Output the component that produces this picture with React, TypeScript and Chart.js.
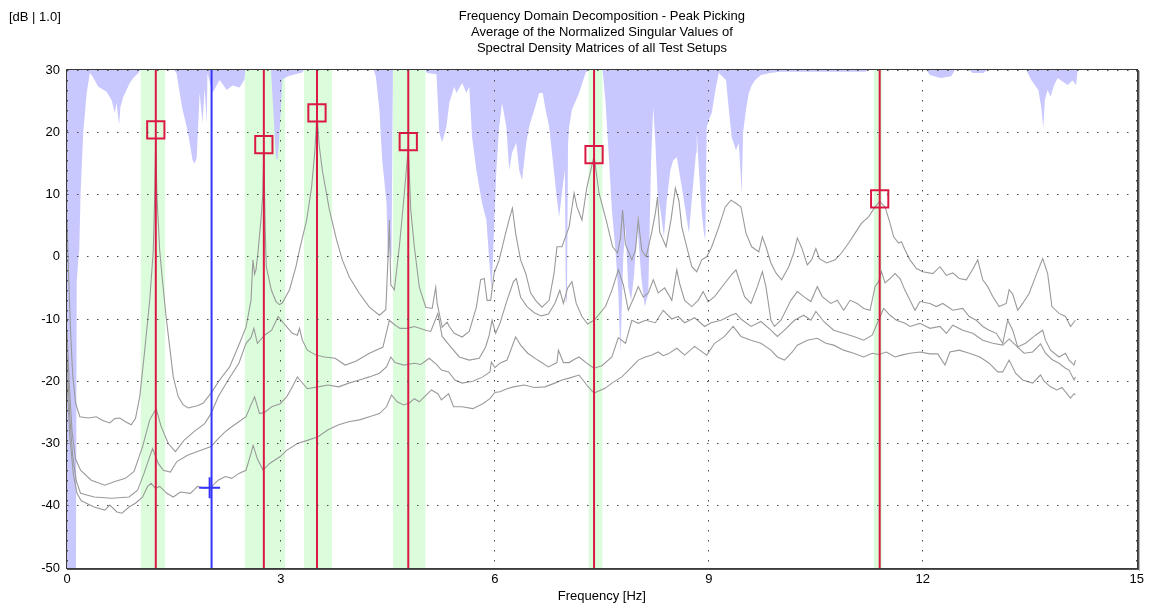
import React, { useEffect, useRef } from 'react';
import { Chart, registerables } from 'chart.js';

Chart.register(...registerables);

const FONT = '"Liberation Sans", Arial, sans-serif';

const titleLines = [
  'Frequency Domain Decomposition - Peak Picking',
  'Average of the Normalized Singular Values of',
  'Spectral Density Matrices of all Test Setups',
];
const yUnitLabel = '[dB | 1.0]';
const xAxisTitle = 'Frequency [Hz]';

const xMin = 0;
const xMax = 15;
const xStep = 3;
const yMin = -50;
const yMax = 30;
const yStep = 10;

// First singular value
const sv1Freq = [0, 0.02, 0.05, 0.08, 0.12, 0.18, 0.3, 0.41, 0.5, 0.6, 0.67, 0.74, 0.82, 0.9, 0.96, 1.02, 1.09, 1.16, 1.21, 1.23, 1.245, 1.26, 1.3, 1.34, 1.39, 1.49, 1.56, 1.63, 1.7, 1.77, 1.84, 1.91, 2.02, 2.14, 2.28, 2.42, 2.51, 2.58, 2.607, 2.63, 2.65, 2.677, 2.72, 2.745, 2.76, 2.778, 2.794, 2.864, 2.93, 2.98, 3.02, 3.12, 3.21, 3.26, 3.36, 3.43, 3.475, 3.505, 3.535, 3.58, 3.68, 3.78, 3.86, 3.96, 4.1, 4.24, 4.38, 4.47, 4.5, 4.52, 4.54, 4.59, 4.66, 4.73, 4.785, 4.82, 4.87, 4.94, 5.03, 5.12, 5.17, 5.19, 5.26, 5.33, 5.36, 5.43, 5.54, 5.64, 5.74, 5.8, 5.85, 5.89, 5.94, 5.99, 6.06, 6.15, 6.2, 6.245, 6.29, 6.36, 6.43, 6.5, 6.57, 6.66, 6.76, 6.83, 6.87, 6.94, 7.04, 7.11, 7.15, 7.22, 7.29, 7.39, 7.46, 7.56, 7.65, 7.72, 7.76, 7.79, 7.83, 7.92, 7.97, 8.01, 8.06, 8.12, 8.2, 8.25, 8.28, 8.31, 8.4, 8.47, 8.53, 8.58, 8.62, 8.69, 8.76, 8.83, 8.9, 8.97, 9.04, 9.14, 9.23, 9.31, 9.38, 9.45, 9.52, 9.6, 9.7, 9.75, 9.8, 9.87, 9.94, 10.02, 10.12, 10.19, 10.24, 10.3, 10.38, 10.44, 10.5, 10.55, 10.65, 10.77, 10.86, 10.96, 11.05, 11.14, 11.24, 11.33, 11.395, 11.47, 11.54, 11.59, 11.66, 11.7, 11.75, 11.82, 11.91, 12.0, 12.14, 12.24, 12.33, 12.42, 12.51, 12.61, 12.7, 12.77, 12.84, 12.91, 12.98, 13.07, 13.17, 13.21, 13.26, 13.33, 13.4, 13.49, 13.58, 13.68, 13.75, 13.81, 13.91, 14.0, 14.07, 14.14];
const sv1Db = [6, -2, -12, -19, -23.5, -25.7, -25.9, -25.7, -26.3, -26.7, -26, -25.9, -26.5, -27, -26, -22.5, -15, -7, 1, 10, 19.4, 10, 1, -4, -9.7, -19.3, -22.5, -23.8, -24.3, -24.1, -23.9, -23.5, -21.9, -19.8, -17.7, -13.9, -11.3, -7, -0.5, -2.8, -2.1, 0.6, 6, 10, 17.2, 5, -1.6, -5.3, -7.2, -7.7, -7.4, -5.3, -1.6, 1.1, 5.9, 11.2, 17, 23, 18, 13.9, 7.5, 2.7, -0.5, -3.3, -5.9, -8.1, -9.4, -8.5, -0.5, 5.9, -4.5, -5.3, 1.6, 10.2, 17.6, 7.5, 1.6, -4.9, -8.1, -8.3, -4.9, -7.5, -11.3, -10.5, -11.2, -12.3, -12.9, -12, -8.1, -3.7, -3.5, -7, -7, -2.6, -0.5, 3.8, 6, 7.8, 3.8, -0.5, -2.6, -5.8, -7, -8.1, -7, -2.6, 1.6, 1.6, 4.8, 10.2, 8, 5.9, 11.2, 16.2, 10.2, 5.9, 1.6, 0.6, 3, 7.5, 2, -0.5, 1, 5.9, 1, 0, 4, 7, 9.6, 4, 1.6, 6, 11, 9, 4.8, 1.6, -1.6, -2.4, -0.5, 0, 1.6, 4.8, 8, 9.1, 8.6, 8, 3.8, 1.6, 0.8, 3.2, 1.6, -1, -2.6, -3.7, -1.6, 0.6, 3, 1.5, -1.3, -0.5, 1.3, -0.3, -1, -0.5, 0.6, 2.2, 3.8, 5.4, 6.4, 8, 8.9, 8, 5.4, 3.2, 2.2, 2.4, 1.1, -0.5, -1.9, -2.4, -2.7, -1.6, -3, -2.6, -3.5, -3.7, -2, -0.5, -3.7, -4.8, -6.4, -8, -7.5, -5.3, -6, -8.6, -7.5, -5.9, -3.2, -0.3, -2.7, -8, -9.1, -9.6, -11.2, -10.2];

// Second singular value
const sv2Freq = [0, 0.03, 0.07, 0.12, 0.19, 0.34, 0.53, 0.67, 0.82, 0.94, 1.06, 1.16, 1.25, 1.32, 1.42, 1.52, 1.64, 1.78, 1.93, 2.02, 2.12, 2.26, 2.41, 2.51, 2.58, 2.62, 2.67, 2.77, 2.87, 2.96, 3.06, 3.16, 3.23, 3.26, 3.3, 3.37, 3.49, 3.61, 3.76, 3.9, 4.05, 4.24, 4.43, 4.52, 4.58, 4.67, 4.77, 4.87, 5.03, 5.1, 5.17, 5.2, 5.26, 5.36, 5.5, 5.64, 5.78, 5.87, 5.92, 5.96, 6.01, 6.07, 6.17, 6.26, 6.3, 6.36, 6.45, 6.55, 6.65, 6.75, 6.84, 6.91, 6.96, 7.02, 7.08, 7.14, 7.22, 7.3, 7.39, 7.55, 7.64, 7.73, 7.8, 7.87, 7.95, 8.01, 8.08, 8.15, 8.22, 8.29, 8.38, 8.48, 8.55, 8.59, 8.66, 8.76, 8.85, 8.92, 8.99, 9.08, 9.22, 9.31, 9.38, 9.5, 9.59, 9.68, 9.75, 9.8, 9.87, 9.92, 10.01, 10.15, 10.24, 10.33, 10.43, 10.52, 10.59, 10.71, 10.8, 10.89, 10.98, 11.08, 11.17, 11.26, 11.33, 11.38, 11.42, 11.47, 11.54, 11.61, 11.68, 11.75, 11.82, 11.89, 11.96, 12.1, 12.19, 12.28, 12.42, 12.56, 12.65, 12.75, 12.84, 12.93, 13.03, 13.12, 13.19, 13.26, 13.33, 13.44, 13.58, 13.68, 13.72, 13.79, 13.91, 14.0, 14.05, 14.12, 14.14];
const sv2Db = [-12, -20, -28, -32.5, -34.3, -35.9, -36.7, -36.1, -35.6, -34.5, -30.5, -26.2, -24.4, -27.3, -30, -31.3, -29.5, -28.1, -26.8, -25.2, -22.5, -19.8, -17.1, -13.9, -13, -11.5, -13.9, -12.6, -11.8, -9.6, -11, -12.3, -12.6, -11.5, -13.4, -15, -15.8, -16.1, -16.3, -17.4, -16.8, -15.5, -14.5, -10.2, -10.8, -11.5, -11.5, -11.2, -11.8, -12, -10, -9.1, -12.8, -14.2, -16.1, -16.6, -16.3, -14.5, -12.6, -10.2, -12.3, -10.7, -7, -4, -3.5, -6.5, -8, -9, -9.5, -9.2, -7.5, -5.4, -7.5, -5, -4, -7.5, -9.6, -10.8, -10.2, -8, -5.4, -2.1, -4.5, -8.6, -6.5, -4.8, -6.5, -5.8, -3.7, -5.8, -5, -7, -2.1, -4.3, -7, -8, -7, -5.6, -7.2, -6.4, -4.3, -3, -2.1, -6.4, -7.5, -4.8, -2.4, -4.8, -10.2, -11.2, -10.2, -7, -5.6, -6.4, -7.2, -4.8, -6.4, -7.5, -7, -8.6, -7, -7.5, -8.3, -8.6, -4.8, -4, -2.4, -4.2, -3.5, -2.7, -3.5, -5.4, -7, -8.6, -7.2, -7.5, -8, -7.5, -8.6, -8.3, -9.6, -10.2, -11.2, -11.8, -12.3, -13.9, -10.2, -11.8, -14.5, -13.9, -12.6, -11.8, -13.4, -15, -16.1, -15.5, -16.6, -17.4, -16.6];

// Third singular value
const sv3Freq = [0, 0.04, 0.08, 0.13, 0.19, 0.38, 0.63, 0.87, 0.99, 1.08, 1.16, 1.2, 1.28, 1.35, 1.45, 1.54, 1.69, 1.83, 2.02, 2.12, 2.22, 2.31, 2.41, 2.51, 2.58, 2.63, 2.7, 2.77, 2.87, 2.99, 3.08, 3.16, 3.23, 3.28, 3.37, 3.52, 3.66, 3.81, 3.95, 4.1, 4.24, 4.38, 4.48, 4.54, 4.6, 4.72, 4.87, 4.96, 5.08, 5.18, 5.25, 5.35, 5.44, 5.54, 5.69, 5.83, 5.93, 5.95, 6.0, 6.07, 6.17, 6.29, 6.36, 6.46, 6.6, 6.75, 6.87, 6.89, 6.96, 7.04, 7.11, 7.18, 7.3, 7.39, 7.5, 7.64, 7.73, 7.83, 7.92, 8.01, 8.11, 8.25, 8.36, 8.48, 8.57, 8.66, 8.8, 8.94, 9.03, 9.17, 9.31, 9.38, 9.45, 9.59, 9.73, 9.87, 9.96, 10.06, 10.2, 10.33, 10.43, 10.5, 10.61, 10.75, 10.89, 11.03, 11.17, 11.29, 11.38, 11.45, 11.54, 11.63, 11.75, 11.82, 11.96, 12.1, 12.24, 12.33, 12.42, 12.56, 12.7, 12.84, 12.98, 13.12, 13.21, 13.3, 13.42, 13.54, 13.65, 13.72, 13.81, 13.91, 14.0, 14.05, 14.12, 14.14];
const sv3Db = [-16, -26, -32, -36, -38, -38.6, -38.8, -38.6, -37.5, -34.8, -32.1, -30.8, -33.2, -34.3, -34.6, -32.9, -31.9, -31.3, -30.5, -29.2, -28.1, -27.3, -26.5, -25.7, -23.8, -22.5, -25.2, -25, -24.1, -23.6, -22.5, -20.9, -19.3, -20, -21.2, -20.9, -20.6, -20.9, -20.3, -19.8, -19.3, -18.7, -17.7, -16.1, -17, -17.4, -17.1, -17.3, -16.3, -17.3, -18.2, -18.5, -19.8, -20.3, -20, -19.3, -18.5, -16.9, -17.8, -17.1, -16.6, -12.9, -14.2, -15.5, -16.6, -17.7, -17, -15, -17, -17, -16.5, -16.1, -17.2, -17.9, -17.5, -16.1, -13, -13.9, -10.2, -10.7, -10.2, -10.6, -8.6, -10, -9.6, -10.6, -9.8, -11.2, -10.6, -10.2, -9.4, -9.1, -10, -11.2, -10.4, -11.8, -12.8, -11.8, -10.2, -9.4, -10.2, -8.8, -10.4, -11.8, -12.3, -12.8, -13.4, -12.6, -10.2, -8.3, -9.4, -10.2, -10.7, -11.2, -10.7, -11.5, -11.2, -12.3, -11, -11.8, -12.3, -13.4, -13.9, -14.2, -13.2, -14.2, -15.5, -15.3, -14, -15.5, -16.5, -17.1, -17.9, -18.2, -19.8, -19.3];

// Fourth singular value
const sv4Freq = [0, 0.04, 0.09, 0.14, 0.2, 0.38, 0.53, 0.6, 0.7, 0.77, 0.87, 0.96, 1.06, 1.13, 1.18, 1.24, 1.3, 1.4, 1.49, 1.59, 1.73, 1.83, 1.93, 2.02, 2.12, 2.22, 2.31, 2.41, 2.51, 2.58, 2.61, 2.67, 2.75, 2.84, 2.99, 3.08, 3.23, 3.37, 3.52, 3.66, 3.81, 3.95, 4.1, 4.24, 4.38, 4.48, 4.55, 4.63, 4.72, 4.8, 4.87, 4.94, 5.01, 5.11, 5.2, 5.25, 5.35, 5.42, 5.54, 5.69, 5.83, 5.93, 6.0, 6.07, 6.17, 6.26, 6.41, 6.55, 6.7, 6.84, 6.94, 7.04, 7.18, 7.3, 7.39, 7.55, 7.64, 7.78, 7.92, 8.01, 8.11, 8.2, 8.29, 8.36, 8.43, 8.55, 8.66, 8.8, 8.97, 9.08, 9.22, 9.34, 9.45, 9.59, 9.73, 9.87, 9.96, 10.06, 10.17, 10.24, 10.38, 10.52, 10.64, 10.75, 10.89, 11.03, 11.17, 11.29, 11.38, 11.49, 11.61, 11.7, 11.82, 11.96, 12.1, 12.21, 12.31, 12.38, 12.51, 12.65, 12.8, 12.93, 13.05, 13.12, 13.21, 13.3, 13.4, 13.54, 13.65, 13.7, 13.79, 13.88, 13.95, 14.02, 14.07, 14.12, 14.14];
const sv4Db = [-20, -29, -35, -38, -39.2, -40.2, -40.7, -39.9, -41, -41.2, -40.2, -39.6, -38.6, -36.9, -36.4, -37.2, -36.9, -38, -38.6, -37.8, -38, -36.9, -37.2, -37, -35.9, -35.3, -35.6, -34.8, -34.3, -31.6, -30.3, -32.5, -34.3, -33.2, -32.1, -31.1, -30, -29.5, -28.9, -27.8, -27, -26.5, -26.2, -25.7, -25.2, -24.1, -22.2, -23.3, -23.8, -23.5, -22.8, -23.3, -22.5, -21.4, -22, -23, -22, -24.1, -24.1, -24.4, -23.6, -22.8, -21.8, -21.7, -21.2, -20.9, -20.6, -21, -20.9, -20.3, -19.8, -19.5, -19, -20.8, -21.9, -21.1, -20.3, -19.3, -17.7, -16.6, -16.1, -15.8, -15.3, -15.9, -15.6, -14.7, -15.8, -14.4, -15.8, -13.9, -12.8, -11.2, -12.8, -13.4, -13.9, -15, -16.1, -16.6, -15.3, -14.2, -13.4, -13.1, -13.9, -14.2, -15, -15.5, -16.1, -15.5, -15.7, -15.3, -16.1, -15.8, -15.5, -15.3, -15.6, -15.6, -17.4, -15.3, -15, -15.5, -16.1, -17.1, -18.5, -18.5, -16.6, -18.7, -19.8, -20.3, -19, -20, -20.9, -21.4, -21, -22, -22.7, -22, -22.2];

// Lower edge of the shaded (blue) band that hangs from the top of the plot
const shadeFreq = [0, 0.126, 0.136, 0.158, 0.172, 0.19, 0.228, 0.276, 0.32, 0.345, 0.44, 0.555, 0.625, 0.67, 0.695, 0.73, 0.75, 0.79, 0.835, 0.88, 0.93, 1.0, 1.03, 1.5, 1.535, 1.58, 1.62, 1.68, 1.72, 1.76, 1.79, 1.82, 1.83, 1.86, 1.9, 1.93, 1.96, 1.97, 2.04, 2.14, 2.24, 2.32, 2.42, 2.49, 2.5, 2.86, 2.88, 2.91, 2.93, 2.95, 2.97, 3.0, 3.02, 3.1, 3.2, 3.3, 3.32, 4.3, 4.33, 4.38, 4.42, 4.48, 4.5, 4.52, 4.55, 4.57, 5.02, 5.05, 5.18, 5.22, 5.26, 5.32, 5.36, 5.43, 5.46, 5.54, 5.6, 5.64, 5.68, 5.74, 5.78, 5.82, 5.88, 5.92, 5.95, 5.96, 5.99, 6.02, 6.06, 6.1, 6.16, 6.2, 6.24, 6.3, 6.34, 6.38, 6.44, 6.48, 6.52, 6.58, 6.62, 6.67, 6.71, 6.76, 6.8, 6.86, 6.9, 6.94, 6.98, 6.995, 7.01, 7.025, 7.04, 7.08, 7.18, 7.27, 7.31, 7.51, 7.55, 7.6, 7.64, 7.69, 7.73, 7.76, 7.8, 7.83, 7.87, 7.91, 7.95, 8.0, 8.05, 8.1, 8.15, 8.19, 8.22, 8.25, 8.28, 8.32, 8.37, 8.41, 8.46, 8.5, 8.55, 8.62, 8.67, 8.72, 8.76, 8.82, 8.83, 8.86, 8.9, 8.93, 8.95, 8.97, 9.0, 9.04, 9.1, 9.14, 9.24, 9.28, 9.32, 9.38, 9.42, 9.46, 9.48, 9.52, 9.56, 9.6, 9.65, 9.73, 9.86, 10.0, 11.2, 11.22, 12.05, 12.1, 12.25, 12.4, 12.45, 12.65, 12.7, 12.85, 12.9, 13.45, 13.52, 13.62, 13.66, 13.69, 13.71, 13.75, 13.79, 13.84, 13.89, 14.03, 14.1, 14.15, 14.17, 15];
const shadeDb = [-50, -50, -4.2, -0.5, 1.1, 10, 20, 26.3, 29.5, 29.2, 27.3, 26.5, 25.2, 23.1, 24.7, 21.2, 24.1, 25.7, 26.8, 27.9, 28.7, 29.5, 30, 30, 29.5, 26.3, 23.6, 20.8, 18.3, 15.5, 15, 16, 18.8, 26.3, 21.5, 27, 21.5, 29.5, 26.3, 28.4, 26.8, 27.5, 27.2, 28.5, 30, 30, 26, 20, 16, 15.5, 18, 24, 28.5, 29, 29.3, 29.6, 30, 30, 29, 23.6, 15.5, 8.6, -1, 1.6, -0.5, 30, 30, 29.5, 29.3, 19.9, 18.4, 20.9, 24.7, 27.3, 26.3, 27.9, 26.3, 27.3, 19.2, 13.9, 11.2, 8.6, 5.9, -0.5, -5.3, -3.7, 4.8, 13.9, 20.9, 24.7, 20.9, 13.9, 16.7, 18.3, 13.9, 12.3, 18.3, 20.9, 22.4, 24.7, 26.3, 26.3, 23.6, 20.9, 16.7, 10.2, 6.4, 10.2, 14, -7.5, -7, 18, 20.9, 23.6, 26.3, 29.5, 30, 30, 25, 15.5, 7.5, 1.1, -5.8, -15.5, 0, 4.8, -4.9, -7, -3, 4.8, -3, -8, -6, 15.5, 24, 18.3, 10.2, 7.5, 3.2, 9.1, 13.9, 15.5, 16, 11.2, 7.5, 3.8, 9.1, 16.7, 19.9, 14, 7, 3.8, 2.7, 20.9, 22, 23.1, 27.3, 29.5, 28.4, 23.6, 19.2, 17.1, 18.3, 10.2, 20, 23.6, 26.3, 27.5, 28.4, 29.2, 29.5, 29.7, 29.7, 30, 30, 29.2, 28.7, 29, 30, 30, 29.5, 29.5, 30, 30, 28.4, 26.8, 24, 20.7, 25.2, 26.8, 25.7, 27.5, 28.7, 27.6, 28.3, 27.6, 30, 30];

// Green frequency bands around the picked peaks
const bandStart = [1.03, 2.49, 3.32, 4.57, 7.31, 11.31];
const bandEnd = [1.375, 3.06, 3.72, 5.03, 7.51, 11.43];

// Picked peaks
const peakFreq = [1.245, 2.76, 3.505, 4.785, 7.39, 11.395];
const peakDb = [20.4, 18.0, 23.1, 18.5, 16.4, 9.3];

// Cursor
const cursorFreq = 2.027;
const cursorMarkFreq = 2.0;
const cursorMarkDb = -37.1;

const CURVE = '#9a9a9a';
const RED = 'rgb(218,24,66)';
const BLUE = '#3535ff';
const SHADE = 'rgb(200,200,255)';
const GREEN = 'rgb(220,253,220)';
const NONE = 'rgba(0,0,0,0)';

const pts = (xs: number[], ys: number[]) => xs.map((x, i) => ({ x, y: ys[i] }));

const framePlugin = {
  id: 'frameAndUnit',
  afterDraw(chart: any) {
    const { ctx, chartArea } = chart;
    const { left, top, right, bottom } = chartArea;
    ctx.save();
    ctx.strokeStyle = '#3a3a3a';
    ctx.lineWidth = 1;
    ctx.strokeRect(Math.round(left) - 0.5, Math.round(top) - 0.5, Math.round(right - left) + 1, Math.round(bottom - top) + 1);
    ctx.strokeStyle = '#555';
    ctx.beginPath();
    ctx.moveTo(Math.round(right) + 1.5, Math.round(top));
    ctx.lineTo(Math.round(right) + 1.5, Math.round(bottom) + 2);
    ctx.moveTo(Math.round(left), Math.round(bottom) + 1.5);
    ctx.lineTo(Math.round(right) + 2, Math.round(bottom) + 1.5);
    ctx.stroke();
    ctx.strokeStyle = '#b8b8b8';
    ctx.beginPath();
    ctx.moveTo(Math.round(right) + 2.5, Math.round(top) + 1);
    ctx.lineTo(Math.round(right) + 2.5, Math.round(bottom) + 3);
    ctx.stroke();
    ctx.fillStyle = '#000';
    ctx.font = `13px ${FONT}`;
    ctx.textAlign = 'left';
    ctx.textBaseline = 'middle';
    ctx.fillText(yUnitLabel, 9, 17.5);
    ctx.restore();
  },
};

export default function App() {
  const ref = useRef<HTMLCanvasElement | null>(null);

  useEffect(() => {
    if (!ref.current) return;
    const lineBase = { pointRadius: 0, tension: 0, fill: false, borderColor: CURVE, borderWidth: 1.1, backgroundColor: NONE };

    const datasets: any[] = [
      {
        label: 'cursor mark',
        data: [{ x: cursorMarkFreq, y: cursorMarkDb }],
        showLine: false,
        pointStyle: 'cross',
        pointRadius: 10.5,
        pointBorderWidth: 2,
        pointBorderColor: BLUE,
        borderColor: BLUE,
        backgroundColor: NONE,
        order: 0,
      },
      {
        label: 'peaks',
        data: pts(peakFreq, peakDb),
        showLine: false,
        pointStyle: 'rect',
        pointRadius: 12.2,
        pointBorderWidth: 2,
        pointBorderColor: RED,
        pointBackgroundColor: NONE,
        borderColor: RED,
        backgroundColor: NONE,
        order: 1,
      },
      {
        label: 'peak lines',
        data: peakFreq.flatMap((f) => [{ x: f, y: yMin }, { x: f, y: yMax }, { x: f, y: null }]),
        borderColor: RED,
        borderWidth: 2,
        pointRadius: 0,
        fill: false,
        spanGaps: false,
        backgroundColor: NONE,
        order: 2,
      },
      {
        label: 'cursor',
        data: [{ x: cursorFreq, y: yMin }, { x: cursorFreq, y: yMax }],
        borderColor: BLUE,
        borderWidth: 2,
        pointRadius: 0,
        fill: false,
        backgroundColor: NONE,
        order: 3,
      },
      { ...lineBase, label: 'SV1', data: pts(sv1Freq, sv1Db), order: 4 },
      { ...lineBase, label: 'SV2', data: pts(sv2Freq, sv2Db), order: 5 },
      { ...lineBase, label: 'SV3', data: pts(sv3Freq, sv3Db), order: 6 },
      { ...lineBase, label: 'SV4', data: pts(sv4Freq, sv4Db), order: 7 },
      {
        label: 'shade',
        data: pts(shadeFreq, shadeDb),
        pointRadius: 0,
        tension: 0,
        borderWidth: 0,
        borderColor: NONE,
        backgroundColor: SHADE,
        fill: 'end',
        order: 8,
      },
      ...bandStart.map((s, i) => ({
        label: 'band ' + i,
        data: [{ x: s, y: yMax }, { x: bandEnd[i], y: yMax }],
        pointRadius: 0,
        borderWidth: 0,
        borderColor: NONE,
        backgroundColor: GREEN,
        fill: 'start',
        order: 9,
      })),
    ];

    const chart = new Chart(ref.current, {
      type: 'line',
      data: { datasets },
      options: {
        animation: false,
        responsive: false,
        devicePixelRatio: 1,
        events: [],
        layout: { padding: { left: 0, right: 12, top: 0, bottom: 0 } },
        plugins: {
          legend: { display: false },
          tooltip: { enabled: false },
          colors: { enabled: false },
          title: {
            display: true,
            text: titleLines,
            fullSize: false,
            color: '#000',
            font: { family: FONT, size: 13, weight: 'normal', lineHeight: 1.2 },
            padding: { top: 9, bottom: 14.2 },
          },
        },
        scales: {
          x: {
            type: 'linear',
            min: xMin,
            max: xMax,
            afterFit: (s: any) => { s.height = 36; },
            ticks: { stepSize: xStep, color: '#000', padding: 4, font: { family: FONT, size: 13 }, maxRotation: 0 },
            grid: { color: '#4a4a4a', lineWidth: 1, drawTicks: false, z: 1 },
            border: { display: false, dash: [1.5, 8.5] },
            title: { display: true, text: xAxisTitle, color: '#000', font: { family: FONT, size: 13 }, padding: { top: 0, bottom: 0 } },
          },
          y: {
            type: 'linear',
            min: yMin,
            max: yMax,
            afterFit: (s: any) => { s.width = 67; },
            ticks: { stepSize: yStep, color: '#000', padding: 7, font: { family: FONT, size: 13 } },
            grid: { color: '#4a4a4a', lineWidth: 1, drawTicks: false, z: 1 },
            border: { display: false, dash: [1.5, 8.5] },
          },
        },
      },
      plugins: [framePlugin],
    } as any);

    return () => chart.destroy();
  }, []);

  return (
    <div style={{ position: 'fixed', left: 0, top: 0, width: 1151, height: 604, background: '#fff' }}>
      <canvas ref={ref} width={1151} height={604} style={{ display: 'block' }} />
    </div>
  );
}
